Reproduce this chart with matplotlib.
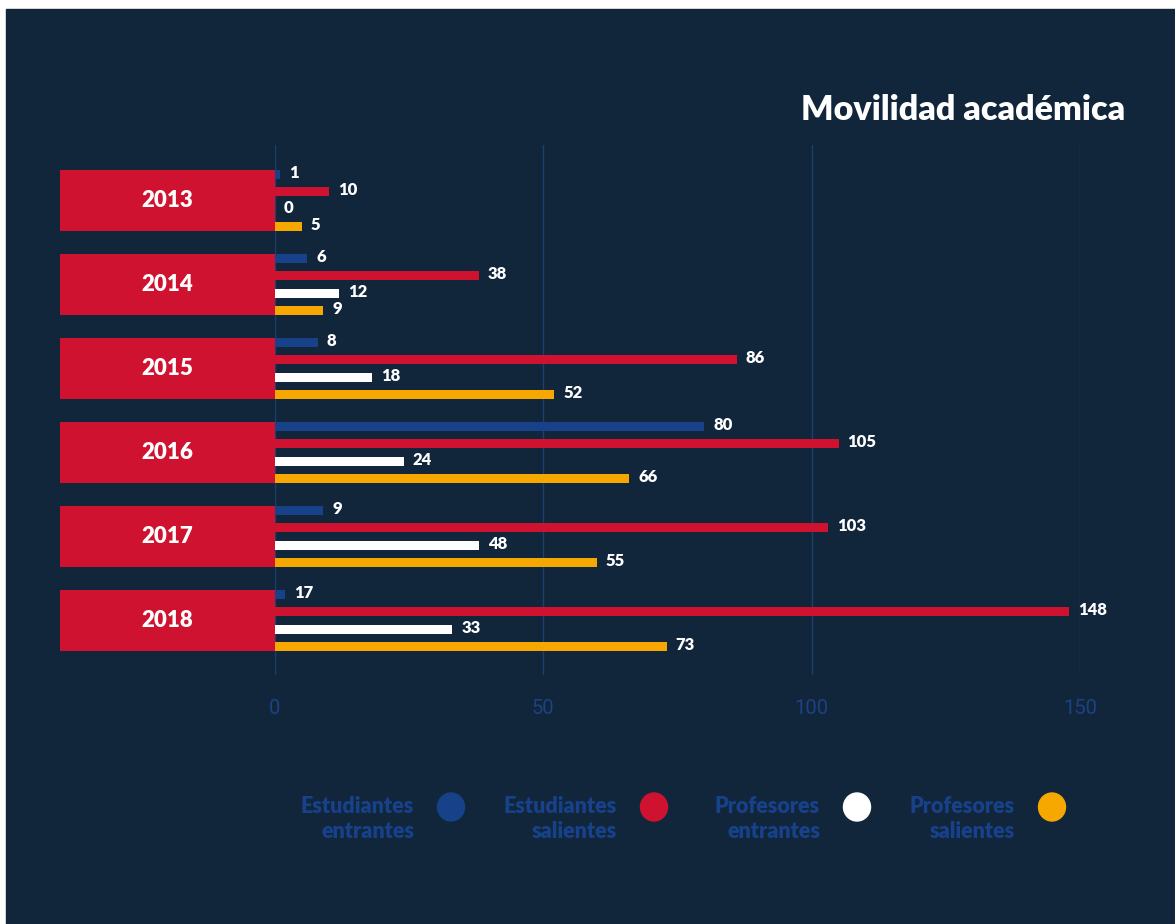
import matplotlib.pyplot as plt
from matplotlib.patches import Rectangle, Ellipse

years = ["2013", "2014", "2015", "2016", "2017", "2018"]
# bar lengths as drawn in the original chart
est_entrantes = [1, 6, 8, 80, 9, 1.8]
est_salientes = [10, 38, 86, 105, 103, 148]
prof_entrantes = [0, 12, 18, 24, 38, 33]
prof_salientes = [5, 9, 52, 66, 60, 73]
# printed labels (a few differ from the bar lengths in the original)
lbl_est_entrantes = ["1", "6", "8", "80", "9", "17"]
lbl_est_salientes = ["10", "38", "86", "105", "103", "148"]
lbl_prof_entrantes = ["0", "12", "18", "24", "48", "33"]
lbl_prof_salientes = ["5", "9", "52", "66", "55", "73"]

series_names = ["Estudiantes\nentrantes", "Estudiantes\nsalientes",
                "Profesores\nentrantes", "Profesores\nsalientes"]
colors = ["#17428a", "#cf1230", "#ffffff", "#f7a800"]
xticks = [0, 50, 100, 150]

BG = "#12263b"
TICK_C = "#1d4283"
FONT = ["Lato", "DejaVu Sans"]

W, H = 1175, 924
fig = plt.figure(figsize=(W / 100, H / 100), dpi=100, facecolor="white")
fig.patches.append(Rectangle((6 / W, 0), 1 - 6 / W, 1 - 9 / H,
                             transform=fig.transFigure, color=BG, zorder=-10))

# axes: x 0 at px 275, 150 at px 1080; grid from y px 145 to 675
ax = fig.add_axes([275 / W, (H - 675) / H, (1080 - 275) / W, (675 - 145) / H])
ax.set_facecolor("none")
ax.set_xlim(0, 150)
ax.set_ylim(5 + (675 - 620.5) / 84, -(200.5 - 145) / 84)
for s in ax.spines.values():
    s.set_visible(False)
ax.set_xticks(xticks)
ax.set_xticklabels([str(t) for t in xticks])
ax.tick_params(axis="x", length=0, pad=17, labelsize=14.5, labelcolor=TICK_C)
for lab in ax.get_xticklabels():
    lab.set_family(["Roboto", "DejaVu Sans"])
    lab.set_fontweight("normal")
ax.set_yticks([])
ax.grid(axis="x", color="#1c3f72", linewidth=1)
ax.set_axisbelow(True)

# year boxes to the left of the axis
px = 805 / 150
box_w = (275 - 60) / px
for i, y in enumerate(years):
    ax.barh(i, -box_w, height=61 / 84, color="#cf1230", clip_on=False, zorder=2)
    ax.text(-box_w / 2, i, y, ha="center", va="center", color="white",
            fontsize=16, fontweight="heavy", family=FONT, clip_on=False)

series = [est_entrantes, est_salientes, prof_entrantes, prof_salientes]
series_labels = [lbl_est_entrantes, lbl_est_salientes,
                 lbl_prof_entrantes, lbl_prof_salientes]
step = 17.4 / 84
offsets = [-1.5 * step, -0.5 * step, 0.5 * step, 1.5 * step]
for vals, labs, col, off in zip(series, series_labels, colors, offsets):
    for i, (v, lb) in enumerate(zip(vals, labs)):
        ax.barh(i + off, v, height=9 / 84, color=col, zorder=3)
        ax.annotate(lb, (v, i + off), xytext=(6.5, 1), textcoords="offset points",
                    ha="left", va="center", color="white", fontsize=12,
                    fontweight="heavy", family=FONT)

# overlay for title and legend, in pixel coordinates
ov = fig.add_axes([0, 0, 1, 1])
ov.set_xlim(0, W)
ov.set_ylim(H, 0)
ov.axis("off")
ov.text(1125, 110, "Movilidad académica", ha="right", va="center",
        color="white", fontsize=24.5, fontweight="heavy", family=FONT)

leg_text_x = [414, 617, 820, 1015]
for name, col, tx in zip(series_names, colors, leg_text_x):
    ov.text(tx, 819, name, ha="right", va="center", color="#17418a",
            fontsize=15.5, fontweight="heavy", family=FONT, linespacing=1.2,
            multialignment="right")
    ov.add_patch(Ellipse((tx + 37, 807), 27, 28, color=col))

fig.savefig("out.png", dpi=100, facecolor=fig.get_facecolor())
